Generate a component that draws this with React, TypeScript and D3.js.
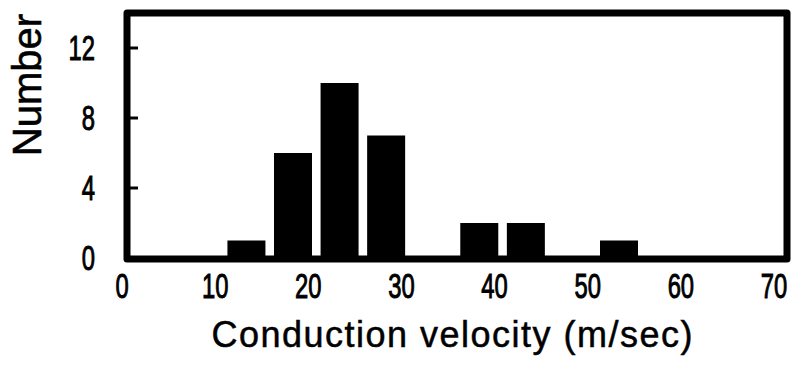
import React from "react";
import * as d3 from "d3";

const binStarts = [10, 15, 20, 25, 35, 40, 50];
const binWidth = 5;
const counts = [1, 6, 10, 7, 2, 2, 1];
const xTicks = [0, 10, 20, 30, 40, 50, 60, 70];
const yTicks = [0, 4, 8, 12];

const W = 796;
const H = 373;

export default function App() {
  const x = d3.scaleLinear().domain([0, 70]).range([130, 782]);
  const y = d3.scaleLinear().domain([0, 14]).range([258, 13]);
  const sans = "Arial, 'Liberation Sans', Helvetica, sans-serif";
  const barW = 38;
  const sx = 0.68;
  const fs = 35;
  return (
    <svg width={W} height={H} style={{ position: "absolute", left: 0, top: 0, background: "#fff" }}>
      <rect x={0} y={0} width={W} height={H} fill="#fff" />
      {binStarts.map((b, i) => {
        const cx = x(b + binWidth / 2);
        return (
          <rect key={i} x={cx - barW / 2} y={y(counts[i])} width={barW} height={y(0) - y(counts[i])} fill="#000" />
        );
      })}
      {yTicks.filter((t) => t > 0).map((t) => (
        <line key={t} x1={x(0) - 3} x2={x(0) + 8} y1={y(t)} y2={y(t)} stroke="#000" strokeWidth={3} />
      ))}
      <rect x={x(0) - 3} y={y(14)} width={x(70) + 5 - (x(0) - 3)} height={y(0) + 1 - y(14)} fill="none" stroke="#000" strokeWidth={7} strokeLinejoin="round" />
      {yTicks.map((t) => (
        <text key={t} transform={`translate(95,${y(t) + 12}) scale(${sx},1)`} textAnchor="end" style={{ fontFamily: sans }} fontSize={fs} fill="#000" stroke="#000" strokeWidth={1}>
          {t}
        </text>
      ))}
      {xTicks.map((t) => (
        <text key={t} transform={`translate(${x(t) - 8},298) scale(${sx},1)`} textAnchor="middle" style={{ fontFamily: sans }} fontSize={fs} fill="#000" stroke="#000" strokeWidth={1}>
          {t}
        </text>
      ))}
      <text transform="translate(41,85) rotate(-90)" textAnchor="middle" style={{ fontFamily: sans }} fontSize={40} fill="#000" stroke="#000" strokeWidth={0.6}>
        Number
      </text>
      <text x={452} y={347} textAnchor="middle" style={{ fontFamily: sans }} fontSize={36} textLength={481} lengthAdjust="spacing" fill="#000" stroke="#000" strokeWidth={0.5}>
        Conduction velocity (m/sec)
      </text>
    </svg>
  );
}
